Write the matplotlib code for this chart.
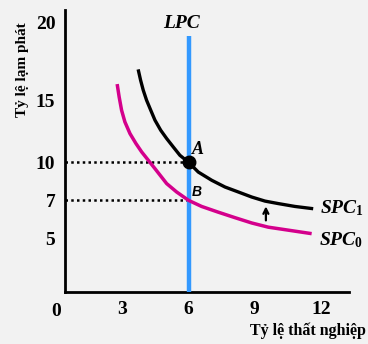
import numpy as np
import matplotlib
matplotlib.use("Agg")
import matplotlib.pyplot as plt

plt.rcParams["mathtext.fontset"] = "custom"
plt.rcParams["mathtext.it"] = "Liberation Serif:italic:bold"
plt.rcParams["mathtext.rm"] = "Liberation Serif:bold"
plt.rcParams["mathtext.bf"] = "Liberation Serif:bold"

# Short-run Phillips curves (unemployment %, inflation %)
spc1_x = [3.72, 3.83, 3.95, 4.10, 4.29, 4.48, 4.74, 5.01, 5.31, 5.61, 6.00,
          6.44, 7.05, 7.65, 8.25, 8.86, 9.46, 10.06, 10.81, 11.64]
spc1_y = [16.97, 16.28, 15.64, 15.0, 14.19, 13.39, 12.58, 11.91, 11.23, 10.56, 10.0,
          9.23, 8.58, 8.05, 7.66, 7.26, 6.96, 6.83, 6.68, 6.56]
spc0_x = [2.77, 2.86, 2.97, 3.12, 3.35, 3.62, 3.88, 4.18, 4.48, 5.01, 5.46, 6.00,
          6.59, 7.34, 8.10, 8.86, 9.61, 10.36, 11.57]
spc0_y = [16.03, 15.21, 14.19, 13.25, 12.31, 11.51, 10.83, 10.16, 9.50, 8.32, 7.66, 7.0,
          6.68, 6.38, 6.09, 5.81, 5.59, 5.46, 5.25]

# Long-run Phillips curve at the natural rate of unemployment
lpc_x = 6
lpc_top = 19.1

# Equilibrium points
point_a = (6, 10)
point_b = (6, 7)

# Upward shift arrow
shift_x = 9.5
shift_from = 5.8
shift_to = 6.83

x_ticks = [3, 6, 9, 12]
y_ticks = [5, 7, 10, 15, 20]

# Uneven vertical spacing of the inflation axis
y_knots = [0, 5, 7, 10, 15, 20, 25]
y_pos = [0, 53, 91, 129, 191, 269, 347]


def fwd(v):
    return np.interp(v, y_knots, y_pos)


def inv(t):
    return np.interp(t, y_pos, y_knots)


bg = "#f2f2f2"
fig = plt.figure(figsize=(3.68, 3.44), dpi=100, facecolor=bg)
ax = fig.add_axes([65 / 368, 1 - 291.5 / 344, (349 - 65) / 368, (291.5 - 10) / 344])
ax.set_facecolor(bg)
ax.set_yscale("function", functions=(fwd, inv))
ax.set_xlim(0.41, 13.26)
ax.set_ylim(0, 20.77)

for s in ["top", "right"]:
    ax.spines[s].set_visible(False)
for s in ["left", "bottom"]:
    ax.spines[s].set_linewidth(2)
    ax.spines[s].set_color("black")

serif = "Liberation Serif"
ax.set_xticks(x_ticks)
ax.set_xticklabels([str(v) for v in x_ticks], fontfamily=serif, fontweight="bold", fontsize=14)
ax.set_yticks(y_ticks)
ax.set_yticklabels([str(v) for v in y_ticks], fontfamily=serif, fontweight="bold", fontsize=14)
ax.tick_params(axis="x", length=0, pad=7)
ax.tick_params(axis="y", length=0, pad=7)
ax.yaxis.set_minor_locator(matplotlib.ticker.NullLocator())

ax.text(0, -0.072, "0", transform=ax.get_xaxis_transform(), ha="center", va="center",
        fontfamily=serif, fontweight="bold", fontsize=14)

# Reference lines to the inflation axis
for px, py in (point_a, point_b):
    ax.plot([0.41, px], [py, py], color="black", linestyle=(0, (1, 1.3)), lw=1.8, zorder=2)

ax.plot([lpc_x, lpc_x], [0, lpc_top], color="#3399ff", lw=3.2, zorder=3, solid_capstyle="butt")
ax.plot(spc0_x, spc0_y, color="#d4008c", lw=2.5, zorder=4, solid_capstyle="butt",
        solid_joinstyle="round")
ax.plot(spc1_x, spc1_y, color="black", lw=2.4, zorder=5, solid_capstyle="butt",
        solid_joinstyle="round")
ax.plot(*point_a, "o", color="black", ms=9, zorder=6)

ax.annotate("", xy=(shift_x, shift_to), xytext=(shift_x, shift_from),
            arrowprops=dict(arrowstyle="->", lw=1.6, color="black", mutation_scale=9))

ax.text(5.7, 19.9, "LPC", ha="center", va="center", fontfamily=serif,
        fontweight="bold", fontstyle="italic", fontsize=14)
ax.text(point_a[0] + 0.15, point_a[1] + 0.35, "A", ha="left", va="bottom", fontfamily=serif,
        fontweight="bold", fontstyle="italic", fontsize=13)
ax.text(point_b[0] + 0.15, point_b[1] + 0.1, "B", ha="left", va="bottom", fontfamily="Liberation Sans",
        fontweight="bold", fontstyle="italic", fontsize=10)
ax.text(11.95, 6.6, r"$\mathit{SPC}_{\mathrm{1}}$", ha="left", va="center", fontsize=14)
ax.text(11.88, 4.85, r"$\mathit{SPC}_{\mathrm{0}}$", ha="left", va="center", fontsize=14)

fig.text(23 / 368, 1 - 70 / 344, "Tỷ lệ lạm phát", rotation=90, ha="center", va="center",
         fontfamily=serif, fontweight="bold", fontsize=11)
fig.text(366 / 368, 1 - 331 / 344, "Tỷ lệ thất nghiệp", ha="right", va="center",
         fontfamily=serif, fontweight="bold", fontsize=11.5)

fig.savefig("out.png", dpi=100, facecolor=bg)
